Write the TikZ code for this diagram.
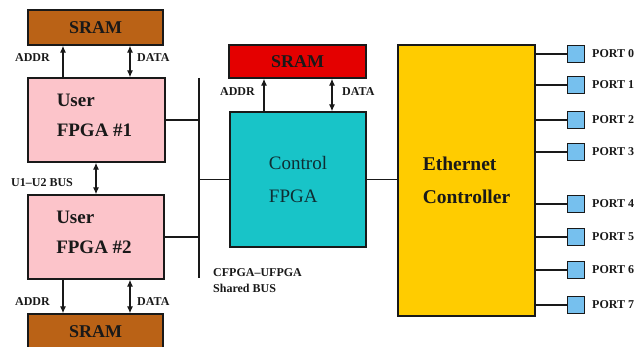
\documentclass[tikz,border=0pt]{standalone}
\usepackage{fontspec}
\setmainfont{Liberation Serif}
\usetikzlibrary{arrows.meta}
\definecolor{sramA}{RGB}{186,98,22}
\definecolor{sramR}{RGB}{228,0,0}
\definecolor{pinkF}{RGB}{252,196,202}
\definecolor{cyanF}{RGB}{24,196,200}
\definecolor{goldF}{RGB}{255,204,0}
\definecolor{portF}{RGB}{118,192,238}
\definecolor{ink}{RGB}{25,25,25}
\begin{document}
\begin{tikzpicture}[x=1pt,y=-1pt,
  blk/.style={draw=ink, line width=1.3pt, inner sep=0pt},
  lbl/.style={font=\fontsize{12}{14}\selectfont\bfseries, text=ink, inner sep=0pt},
  sramtxt/.style={font=\fontsize{18}{20}\selectfont\bfseries, text=ink},
  boxtxt/.style={font=\fontsize{19}{30}\selectfont\bfseries, text=ink, align=left, inner sep=0pt},
  wire/.style={line width=1.3pt, draw=ink},
  arr/.style={line width=1.2pt, draw=ink, -{Latex[length=7pt,width=6pt]}},
  darr/.style={line width=1.2pt, draw=ink, {Latex[length=7pt,width=6pt]}-{Latex[length=7pt,width=6pt]}},
  port/.style={draw=ink, line width=1.1pt, fill=portF, minimum size=17pt, inner sep=0pt}]
\useasboundingbox (0,0) rectangle (644,347);
\clip (0,0) rectangle (644,347);
\fill[white] (0,0) rectangle (644,347);

% left column
\node[blk, fill=sramA, minimum width=135pt, minimum height=35pt, sramtxt] (sram1) at (95.5,27.5) {SRAM};
\node[blk, fill=pinkF, minimum width=137pt, minimum height=84pt] (fpga1) at (96.5,120) {};
\node[boxtxt] (fpga1t) at ([yshift=5pt,xshift=-2pt]fpga1.center) {User\\FPGA \#1};
\node[blk, fill=pinkF, minimum width=136pt, minimum height=84pt] (fpga2) at (96,237) {};
\node[boxtxt] (fpga2t) at ([yshift=5pt,xshift=-2pt]fpga2.center) {User\\FPGA \#2};
\node[blk, fill=sramA, minimum width=135pt, minimum height=36pt, sramtxt] (sram2) at (95.5,332) {SRAM};

% arrows left
\draw[arr] (fpga1.north -| 63,0) -- (sram1.south -| 63,0);
\draw[darr] (fpga1.north -| 130,0) -- (sram1.south -| 130,0);
\draw[darr] (fpga1.south -| 96,0) -- (fpga2.north -| 96,0);
\draw[arr] (fpga2.south -| 63,0) -- (sram2.north -| 63,0);
\draw[darr] (fpga2.south -| 130,0) -- (sram2.north -| 130,0);

\node[lbl, anchor=east] (a1) at (50,58) {ADDR};
\node[lbl, anchor=west] (d1) at (137,58) {DATA};
\node[lbl, anchor=west] (ubus) at (11,183) {U1--U2 BUS};
\node[lbl, anchor=east] (a2) at (50,302) {ADDR};
\node[lbl, anchor=west] (d2) at (137,302) {DATA};

% control FPGA
\node[blk, fill=sramR, minimum width=137pt, minimum height=33pt, sramtxt] (sram3) at (297.5,61.5) {SRAM};
\node[blk, fill=cyanF, minimum width=136pt, minimum height=135pt,
      font=\fontsize{19}{33}\selectfont, text={rgb,255:red,15;green,45;blue,50}, align=left] (ctrl) at (298,179.5) {Control\\FPGA};
\draw[arr] (ctrl.north -| 264,0) -- (sram3.south -| 264,0);
\draw[darr] (ctrl.north -| 332,0) -- (sram3.south -| 332,0);
\node[lbl, anchor=east] (a3) at (255,92) {ADDR};
\node[lbl, anchor=west] (d3) at (342,92) {DATA};

% shared bus
\coordinate (bt) at (199,78);
\coordinate (bb) at (199,278);
\draw[wire] (bt) -- (bb);
\draw[wire] (fpga1.east) -- (fpga1.east -| bt);
\draw[wire] (fpga2.east) -- (fpga2.east -| bt);
\draw[wire] (ctrl.west) -- (ctrl.west -| bt);
\node[lbl, anchor=north west, align=left, font=\fontsize{12}{16}\selectfont\bfseries] (sbus) at (213,268) {CFPGA--UFPGA\\Shared BUS};

% ethernet
\node[blk, fill=goldF, minimum width=137pt, minimum height=271pt,
      font=\fontsize{19.5}{33}\selectfont\bfseries, text=ink, align=left] (eth) at (466.5,180.5) {Ethernet\\Controller};
\draw[wire] (ctrl.east) -- (ctrl.east -| eth.west);

\foreach \i/\y in {0/54,1/85,2/120,3/152,4/204,5/237,6/270,7/305} {
  \node[port] (p\i) at (576,\y) {};
  \node[lbl, anchor=west] (pl\i) at (592,\y) {PORT \i};
  \draw[wire] (eth.east |- p\i) -- (p\i);
}
\end{tikzpicture}
\end{document}
